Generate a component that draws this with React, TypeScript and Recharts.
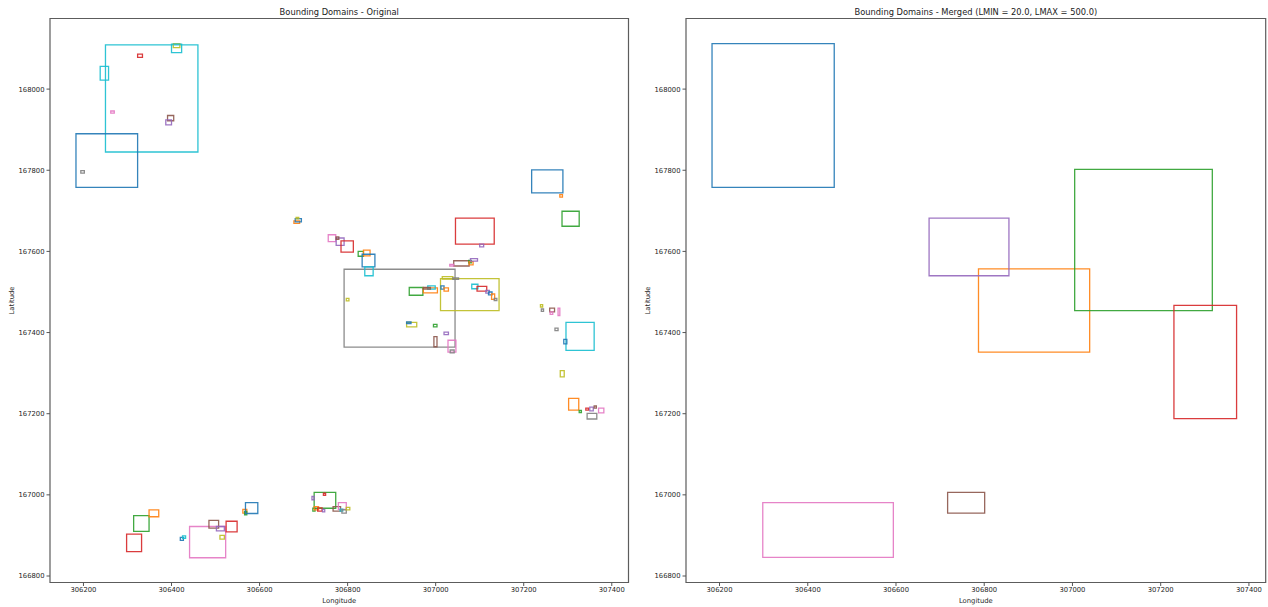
import React from 'react';
import { ComposedChart, XAxis, YAxis, ReferenceArea } from 'recharts';

// matplotlib tab10 cycle
const TAB10: Record<string, string> = {
  blue: '#1f77b4', orange: '#ff7f0e', green: '#2ca02c', red: '#d62728', purple: '#9467bd',
  brown: '#8c564b', pink: '#e377c2', gray: '#7f7f7f', olive: '#bcbd22', cyan: '#17becf',
};

const LON_TICKS = [306200, 306400, 306600, 306800, 307000, 307200, 307400];
const LAT_TICKS = [166800, 167000, 167200, 167400, 167600, 167800, 168000];
const LON_RANGE = [306124, 307438];
const LAT_RANGE = [166784, 168174];

// [lonMin, lonMax, latMin, latMax]
const ORIGINAL_BOXES = [
  [306250, 306460, 167845, 168109], [306183, 306323, 167758, 167890], [306238, 306257, 168022, 168056],
  [306404, 306419, 168102, 168112], [306400, 306423, 168090, 168111], [306323, 306334, 168078, 168086],
  [306262, 306270, 167941, 167946], [306391, 306405, 167922, 167935], [306387, 306400, 167912, 167924],
  [306194, 306202, 167793, 167799], [306792, 307044, 167364, 167556], [307045, 307133, 167618, 167682],
  [307100, 307109, 167611, 167618], [307011, 307144, 167454, 167533], [307015, 307039, 167532, 167538],
  [307039, 307052, 167531, 167535], [307041, 307076, 167564, 167577], [307032, 307041, 167564, 167568],
  [307075, 307081, 167572, 167578], [307076, 307085, 167567, 167575], [307079, 307095, 167576, 167582],
  [307082, 307096, 167508, 167519], [307094, 307116, 167502, 167514], [307114, 307122, 167497, 167504],
  [307120, 307128, 167493, 167500], [307127, 307134, 167482, 167495], [307133, 307139, 167479, 167484],
  [306940, 306971, 167492, 167511], [306972, 307004, 167498, 167510], [306982, 306999, 167507, 167515],
  [306972, 306988, 167507, 167511], [307012, 307019, 167507, 167515], [307019, 307029, 167502, 167510],
  [306797, 306803, 167478, 167484], [306934, 306957, 167414, 167425], [306934, 306944, 167422, 167426],
  [306995, 307003, 167414, 167420], [307019, 307029, 167395, 167401], [306996, 307003, 167365, 167390],
  [307028, 307046, 167352, 167381], [307033, 307042, 167350, 167357], [306678, 306691, 167669, 167675],
  [306681, 306695, 167673, 167681], [306683, 306689, 167680, 167684], [306756, 306773, 167624, 167641],
  [306774, 306792, 167615, 167633], [306774, 306780, 167630, 167636], [306785, 306813, 167598, 167626],
  [306824, 306836, 167588, 167600], [306836, 306851, 167589, 167603], [306833, 306862, 167562, 167593],
  [306839, 306858, 167540, 167562], [307218, 307289, 167744, 167801], [307282, 307288, 167734, 167740],
  [307287, 307326, 167662, 167699], [307238, 307243, 167463, 167469], [307240, 307245, 167452, 167458],
  [307259, 307270, 167451, 167460], [307260, 307266, 167445, 167451], [307278, 307282, 167442, 167460],
  [307271, 307278, 167405, 167411], [307296, 307360, 167356, 167425], [307291, 307298, 167372, 167383],
  [307283, 307292, 167291, 167306], [307302, 307325, 167209, 167238], [307326, 307331, 167203, 167208],
  [307341, 307347, 167209, 167214], [307350, 307358, 167207, 167216], [307360, 307365, 167214, 167219],
  [307370, 307382, 167202, 167214], [307344, 307366, 167187, 167201], [306298, 306332, 166860, 166903],
  [306314, 306349, 166910, 166949], [306349, 306371, 166946, 166963], [306420, 306427, 166888, 166895],
  [306425, 306432, 166893, 166899], [306441, 306523, 166845, 166922], [306485, 306507, 166918, 166937],
  [306502, 306520, 166911, 166922], [306510, 306520, 166891, 166900], [306524, 306549, 166909, 166935],
  [306562, 306571, 166955, 166964], [306566, 306571, 166951, 166959], [306568, 306596, 166954, 166981],
  [306724, 306773, 166967, 167006], [306745, 306750, 166999, 167004], [306719, 306724, 166988, 166996],
  [306721, 306726, 166960, 166967], [306724, 306734, 166963, 166971], [306732, 306742, 166960, 166968],
  [306743, 306748, 166958, 166964], [306767, 306784, 166960, 166971], [306779, 306797, 166964, 166981],
  [306783, 306789, 166960, 166965], [306787, 306797, 166955, 166963], [306797, 306805, 166963, 166969],
];

const ORIGINAL_COLORS = [
  'cyan', 'blue', 'cyan', 'olive', 'cyan', 'red', 'pink', 'brown', 'purple', 'gray',
  'gray', 'red', 'purple', 'olive', 'olive', 'gray', 'brown', 'pink', 'green', 'orange',
  'purple', 'cyan', 'red', 'purple', 'blue', 'orange', 'gray', 'green', 'orange', 'cyan',
  'brown', 'blue', 'orange', 'olive', 'olive', 'blue', 'green', 'purple', 'brown', 'pink',
  'gray', 'orange', 'blue', 'olive', 'pink', 'purple', 'brown', 'red', 'green', 'orange',
  'blue', 'cyan', 'blue', 'orange', 'green', 'olive', 'gray', 'brown', 'pink', 'pink',
  'gray', 'cyan', 'blue', 'olive', 'orange', 'green', 'red', 'purple', 'brown', 'pink',
  'gray', 'red', 'green', 'orange', 'blue', 'cyan', 'pink', 'brown', 'purple', 'olive',
  'red', 'orange', 'green', 'blue', 'green', 'red', 'purple', 'green', 'orange', 'red',
  'purple', 'brown', 'pink', 'cyan', 'gray', 'olive',
];

const MERGED_BOXES = [
  [306183, 306460, 167758, 168112],
  [306787, 307039, 167352, 167557],
  [307005, 307317, 167454, 167802],
  [307230, 307372, 167188, 167467],
  [306675, 306856, 167540, 167682],
  [306717, 306801, 166955, 167006],
  [306298, 306594, 166846, 166981],
];

const MERGED_COLORS = ['blue', 'orange', 'green', 'red', 'purple', 'brown', 'pink'];

const FONT = '"DejaVu Sans", sans-serif';
const TICK_STYLE = { fontSize: 6.8, fill: '#262626', fontFamily: FONT };

function DomainPanel({ title, boxes, colors, left, width, marginRight }) {
  return (
    <div style={{ position: 'absolute', left, top: 0, width, height: 607 }}>
      <div
        style={{
          position: 'absolute', left: 50, width: width - 50 - marginRight, top: 6.5,
          textAlign: 'center', fontFamily: FONT, fontSize: 8.3, lineHeight: '10px', color: '#222',
        }}
      >
        {title}
      </div>
      <ComposedChart
        width={width}
        height={607}
        data={[]}
        margin={{ top: 18.5, right: marginRight, bottom: 0.5, left: 0 }}
      >
        <XAxis
          type="number"
          dataKey="lon"
          domain={LON_RANGE}
          ticks={LON_TICKS}
          allowDataOverflow
          axisLine={false}
          tickSize={3.5}
          tickMargin={1}
          tickLine={{ stroke: '#555' }}
          tick={TICK_STYLE}
          height={24}
          label={{
            content: ({ viewBox }) => (
              <text
                x={viewBox.x + viewBox.width / 2}
                y={viewBox.y + 18.2}
                textAnchor="middle"
                dominantBaseline="central"
                style={TICK_STYLE}
              >
                Longitude
              </text>
            ),
          }}
        />
        <YAxis
          type="number"
          dataKey="lat"
          domain={LAT_RANGE}
          ticks={LAT_TICKS}
          allowDataOverflow
          axisLine={false}
          tickSize={3.5}
          tickMargin={2}
          tickLine={{ stroke: '#555' }}
          tick={TICK_STYLE}
          width={50}
          label={{
            content: ({ viewBox }) => {
              const cy = viewBox.y + viewBox.height / 2;
              return (
                <text
                  x={11.7}
                  y={cy}
                  transform={`rotate(-90, 11.7, ${cy})`}
                  textAnchor="middle"
                  dominantBaseline="central"
                  style={TICK_STYLE}
                >
                  Latitude
                </text>
              );
            },
          }}
        />
        {boxes.map((b, i) => (
          <ReferenceArea
            key={i}
            x1={b[0]}
            x2={b[1]}
            y1={b[2]}
            y2={b[3]}
            fill="none"
            stroke={TAB10[colors[i]]}
            strokeWidth={1.3}
            strokeOpacity={0.9}
            ifOverflow="visible"
          />
        ))}
        {/* axes frame */}
        <ReferenceArea
          x1={LON_RANGE[0]}
          x2={LON_RANGE[1]}
          y1={LAT_RANGE[0]}
          y2={LAT_RANGE[1]}
          fill="none"
          stroke="#5c5c5c"
          strokeWidth={1.2}
          ifOverflow="visible"
        />
      </ComposedChart>
    </div>
  );
}

export default function App() {
  return (
    <div style={{ position: 'absolute', left: 0, top: 0, width: 1268, height: 607, background: '#fff' }}>
      <DomainPanel
        title="Bounding Domains - Original"
        boxes={ORIGINAL_BOXES}
        colors={ORIGINAL_COLORS}
        left={0}
        width={640}
        marginRight={11.5}
      />
      <DomainPanel
        title="Bounding Domains - Merged (LMIN = 20.0, LMAX = 500.0)"
        boxes={MERGED_BOXES}
        colors={MERGED_COLORS}
        left={636}
        width={632}
        marginRight={2.3}
      />
    </div>
  );
}
